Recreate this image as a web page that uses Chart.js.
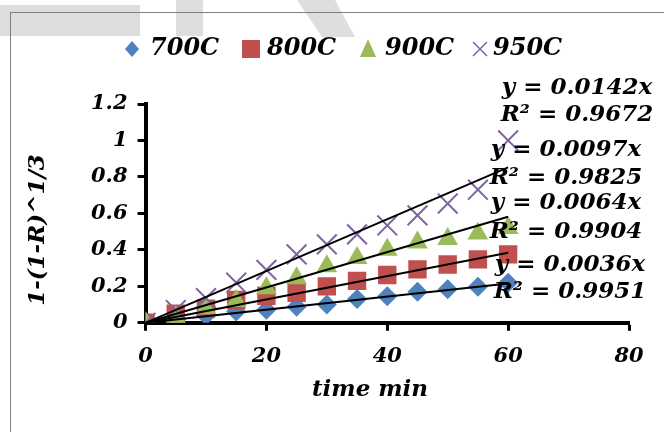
<!DOCTYPE html>
<html><head><meta charset="utf-8">
<style>
html,body{margin:0;padding:0;background:#fff;}
#wrap{position:relative;width:664px;height:432px;overflow:hidden;background:#fff;}
.wm{position:absolute;background:#dedede;}
#frame{position:absolute;left:10px;top:12px;width:700px;height:500px;border-left:1px solid #7f7f7f;border-top:1px solid #7f7f7f;}
canvas{position:absolute;left:0;top:0;}
</style>
<script src="https://cdn.jsdelivr.net/npm/chart.js@4/dist/chart.umd.min.js"></script>
</head><body>
<div id="wrap">
<div class="wm" style="left:0;top:5px;width:140px;height:31px"></div>
<div class="wm" style="left:176px;top:0;width:27px;height:36px"></div>
<div class="wm" style="left:0;top:0;width:664px;height:37px;clip-path:polygon(297px 0,335px 0,355px 37px,322px 37px)"></div>
<div id="frame"></div>
<canvas id="c" width="664" height="432"></canvas>
</div>
<script>
// ---- data ----
const times = [0, 5, 10, 15, 20, 25, 30, 35, 40, 45, 50, 55, 60];
const s700 = [0, 0.02, 0.04, 0.062, 0.072, 0.088, 0.10, 0.13, 0.146, 0.17, 0.184, 0.198, 0.22];
const s800 = [0, 0.05, 0.078, 0.125, 0.148, 0.165, 0.20, 0.23, 0.262, 0.293, 0.32, 0.348, 0.375];
const s900 = [0, 0.03, 0.08, 0.12, 0.19, 0.245, 0.31, 0.355, 0.40, 0.44, 0.46, 0.49, 0.52];
const s950 = [0, 0.07, 0.135, 0.22, 0.29, 0.375, 0.43, 0.485, 0.534, 0.589, 0.654, 0.73, 1.0];
const seriesLabels = ['700C', '800C', '900C', '950C'];
const slopes = [0.0036, 0.0064, 0.0097, 0.0142];
const r2 = ['0.9951', '0.9904', '0.9825', '0.9672'];
const xTicks = [0, 20, 40, 60, 80];
const yTicks = [0, 0.2, 0.4, 0.6, 0.8, 1, 1.2];
const yTickLabels = ['0', '0.2', '0.4', '0.6', '0.8', '1', '1.2'];
const xTitle = 'time min';
const yTitle = '1-(1-R)^1/3';

// ---- styles ----
const FONT = '"DejaVu Serif"';
const colors = ['#4F81BD', '#C0504D', '#9BBB59', '#8064A2'];
const styles = ['rectRot', 'rect', 'triangle', 'crossRot'];
const radii = [10, 13, 12, 14];
const fitEnd = 60;
const eqPos = [[570, 265, 292], [566, 203, 232], [566, 150, 178], [577, 88, 115]];
const legendMarkX = [132, 251, 368, 480];
const legendTextX = [150, 267, 385, 493];
const legendY = 49;

const seriesVals = [s700, s800, s900, s950];
const datasets = [];
seriesVals.forEach((vals, i) => {
  datasets.push({
    label: seriesLabels[i],
    data: times.map((t, k) => ({x: t, y: vals[k]})),
    pointStyle: styles[i],
    pointRadius: radii[i],
    pointHoverRadius: radii[i],
    backgroundColor: colors[i],
    borderColor: colors[i],
    borderWidth: i === 3 ? 2 : 0,
    showLine: false,
    order: 4 - i
  });
});
slopes.forEach((m, i) => {
  datasets.push({
    label: 'fit' + i,
    data: [{x: 0, y: 0}, {x: fitEnd, y: m * fitEnd}],
    showLine: true,
    pointRadius: 0,
    borderColor: '#000',
    borderWidth: 2,
    fill: false,
    order: 0
  });
});

const overlay = {
  id: 'overlay',
  afterDraw(chart) {
    const ctx = chart.ctx;
    ctx.save();
    ctx.font = 'italic bold 24px ' + FONT;
    ctx.textBaseline = 'middle';
    ctx.textAlign = 'left';
    const ly = legendY;
    seriesLabels.forEach((lab, i) => {
      const cx = legendMarkX[i];
      ctx.fillStyle = colors[i];
      ctx.strokeStyle = colors[i];
      ctx.beginPath();
      if (i === 0) {
        ctx.moveTo(cx - 7, ly); ctx.lineTo(cx, ly - 8); ctx.lineTo(cx + 7, ly); ctx.lineTo(cx, ly + 8); ctx.closePath(); ctx.fill();
      } else if (i === 1) {
        ctx.rect(cx - 9, ly - 9, 18, 18); ctx.fill();
      } else if (i === 2) {
        ctx.moveTo(cx, ly - 10); ctx.lineTo(cx + 8, ly + 8); ctx.lineTo(cx - 8, ly + 8); ctx.closePath(); ctx.fill();
      } else {
        ctx.lineWidth = 1.5;
        ctx.moveTo(cx - 7, ly - 7); ctx.lineTo(cx + 7, ly + 7); ctx.moveTo(cx + 7, ly - 7); ctx.lineTo(cx - 7, ly + 7); ctx.stroke();
      }
      ctx.fillStyle = '#000';
      ctx.fillText(lab, legendTextX[i], ly);
    });
    // equations
    ctx.font = 'italic bold 23px ' + FONT;
    ctx.textAlign = 'center';
    slopes.forEach((m, i) => {
      const p = eqPos[i];
      ctx.fillText('y = ' + m + 'x', p[0], p[1]);
      ctx.fillText('R\u00B2 = ' + r2[i], p[0], p[2]);
    });
    // axis titles
    ctx.fillText(xTitle, 370, 390);
    ctx.translate(38, 230);
    ctx.rotate(-Math.PI / 2);
    ctx.fillText(yTitle, 0, 0);
    ctx.restore();
  }
};

const tickFont = {family: FONT, size: 21, weight: 'bold', style: 'italic'};

new Chart(document.getElementById('c'), {
  type: 'scatter',
  data: {datasets},
  options: {
    responsive: false,
    animation: false,
    devicePixelRatio: 1,
    layout: {padding: {left: 81, right: 35, top: 104, bottom: 50}},
    plugins: {legend: {display: false}, tooltip: {enabled: false}},
    scales: {
      x: {
        type: 'linear', min: 0, max: 80,
        afterBuildTicks: s => { s.ticks = xTicks.map(v => ({value: v})); },
        ticks: {font: tickFont, color: '#000', padding: 13},
        grid: {display: true, drawOnChartArea: false, drawTicks: true, tickLength: 8, tickWidth: 3, tickColor: '#000'},
        border: {display: true, color: '#000', width: 4}
      },
      y: {
        type: 'linear', min: 0, max: 1.2,
        afterBuildTicks: s => { s.ticks = yTicks.map(v => ({value: v})); },
        ticks: {font: tickFont, color: '#000', padding: 10,
          callback: (v) => { const k = yTicks.indexOf(v); return k >= 0 ? yTickLabels[k] : ''; }},
        grid: {display: true, drawOnChartArea: false, drawTicks: true, tickLength: 8, tickWidth: 3, tickColor: '#000'},
        border: {display: true, color: '#000', width: 4}
      }
    }
  },
  plugins: [overlay]
});
</script>
</body></html>
